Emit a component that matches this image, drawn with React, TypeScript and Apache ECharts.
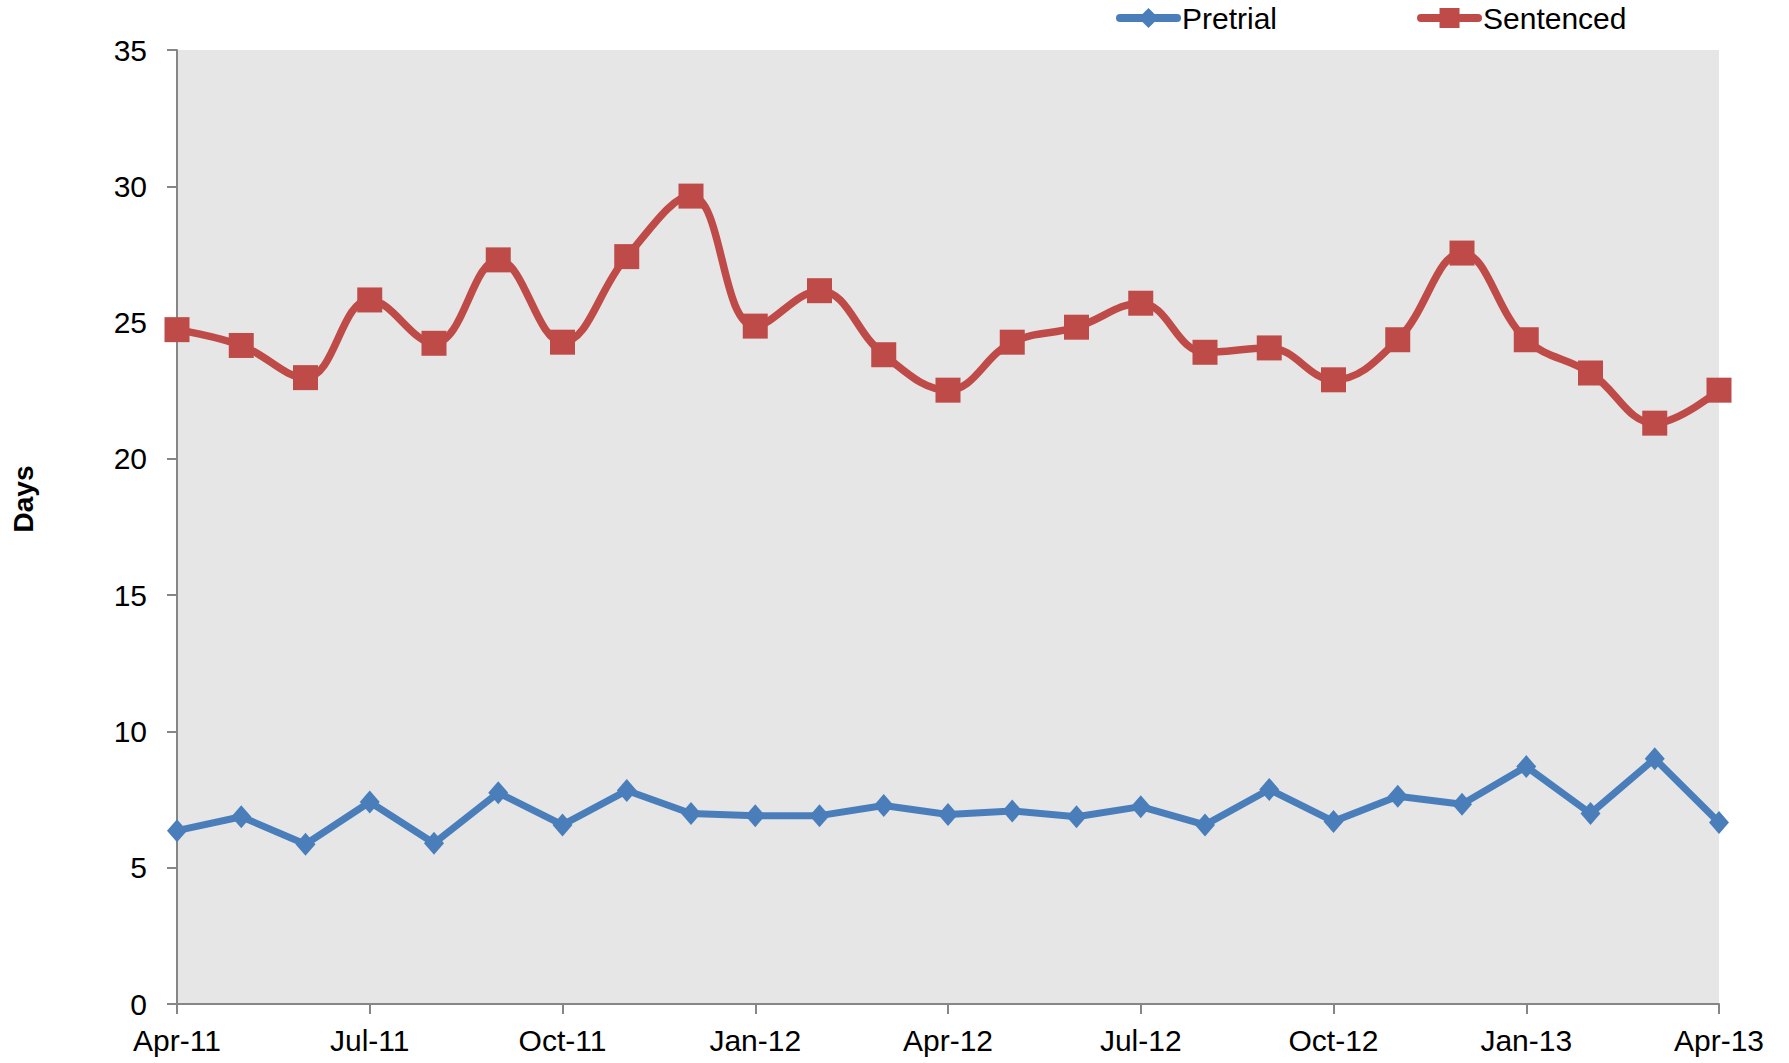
import React, { useEffect, useRef } from "react";
import * as echarts from "echarts";

const months = [
  "Apr-11", "May-11", "Jun-11", "Jul-11", "Aug-11", "Sep-11", "Oct-11", "Nov-11", "Dec-11",
  "Jan-12", "Feb-12", "Mar-12", "Apr-12", "May-12", "Jun-12", "Jul-12", "Aug-12", "Sep-12",
  "Oct-12", "Nov-12", "Dec-12", "Jan-13", "Feb-13", "Mar-13", "Apr-13",
];

const pretrial = [
  6.36, 6.87, 5.86, 7.41, 5.9, 7.75, 6.57, 7.83, 6.99,
  6.91, 6.91, 7.28, 6.95, 7.08, 6.87, 7.24, 6.57, 7.87,
  6.7, 7.62, 7.33, 8.71, 6.99, 9.0, 6.66,
];

const sentenced = [
  24.74, 24.16, 22.98, 25.83, 24.24, 27.3, 24.28, 27.42, 29.64,
  24.87, 26.17, 23.82, 22.52, 24.28, 24.83, 25.71, 23.91, 24.07,
  22.9, 24.37, 27.55, 24.37, 23.15, 21.31, 22.52,
];

const yTicks = { min: 0, max: 35, interval: 5 };
const yAxisTitle = "Days";

const FONT = "'Liberation Sans', Arial, sans-serif";
const BLUE = "#4A7EBB";
const RED = "#BE4B48";
const AXIS = "#868686";

export default function App() {
  const ref = useRef<HTMLDivElement>(null);

  useEffect(() => {
    if (!ref.current) return;
    const chart = echarts.init(ref.current, null, { renderer: "svg" });
    chart.setOption({
      animation: false,
      backgroundColor: "#ffffff",
      textStyle: { fontFamily: FONT },
      grid: {
        left: 177,
        right: 70,
        top: 50,
        bottom: 59,
        show: true,
        backgroundColor: "#E6E6E6",
        borderWidth: 0,
      },
      legend: {
        left: 1111,
        top: -2,
        itemWidth: 57,
        itemHeight: 25,
        itemGap: 140,
        lineStyle: { width: 8, cap: "round" },
        textStyle: { fontFamily: FONT, fontSize: 30, color: "#000" },
        data: ["Pretrial", "Sentenced"],
      },
      graphic: [
        {
          type: "text",
          x: 23,
          y: 499,
          rotation: Math.PI / 2,
          style: {
            text: yAxisTitle,
            fontFamily: FONT,
            fontSize: 28,
            fontWeight: "bold",
            fill: "#000",
            align: "center",
            verticalAlign: "middle",
          },
        },
      ],
      xAxis: {
        type: "category",
        boundaryGap: false,
        data: months,
        axisLine: { show: true, lineStyle: { color: AXIS, width: 2 } },
        axisTick: { show: true, interval: 2, length: 10, lineStyle: { color: AXIS, width: 2 } },
        axisLabel: {
          interval: 2,
          margin: 21,
          fontSize: 30,
          fontFamily: FONT,
          color: "#000",
        },
        splitLine: { show: false },
      },
      yAxis: {
        type: "value",
        min: yTicks.min,
        max: yTicks.max,
        interval: yTicks.interval,
        axisLine: { show: true, lineStyle: { color: AXIS, width: 2 } },
        axisTick: { show: true, length: 10, lineStyle: { color: AXIS, width: 2 } },
        axisLabel: { margin: 30, fontSize: 30, fontFamily: FONT, color: "#000" },
        splitLine: { show: false },
      },
      series: [
        {
          name: "Pretrial",
          type: "line",
          data: pretrial,
          symbol: "diamond",
          symbolSize: [20, 23],
          lineStyle: { color: BLUE, width: 7 },
          itemStyle: { color: BLUE },
          z: 3,
        },
        {
          name: "Sentenced",
          type: "line",
          data: sentenced,
          smooth: 0.4,
          symbol: "rect",
          symbolSize: 25,
          lineStyle: { color: RED, width: 7.5 },
          itemStyle: { color: RED },
          z: 3,
        },
      ],
    });
    return () => chart.dispose();
  }, []);

  return (
    <div
      ref={ref}
      style={{ position: "absolute", left: 0, top: 0, width: 1789, height: 1063 }}
    />
  );
}
